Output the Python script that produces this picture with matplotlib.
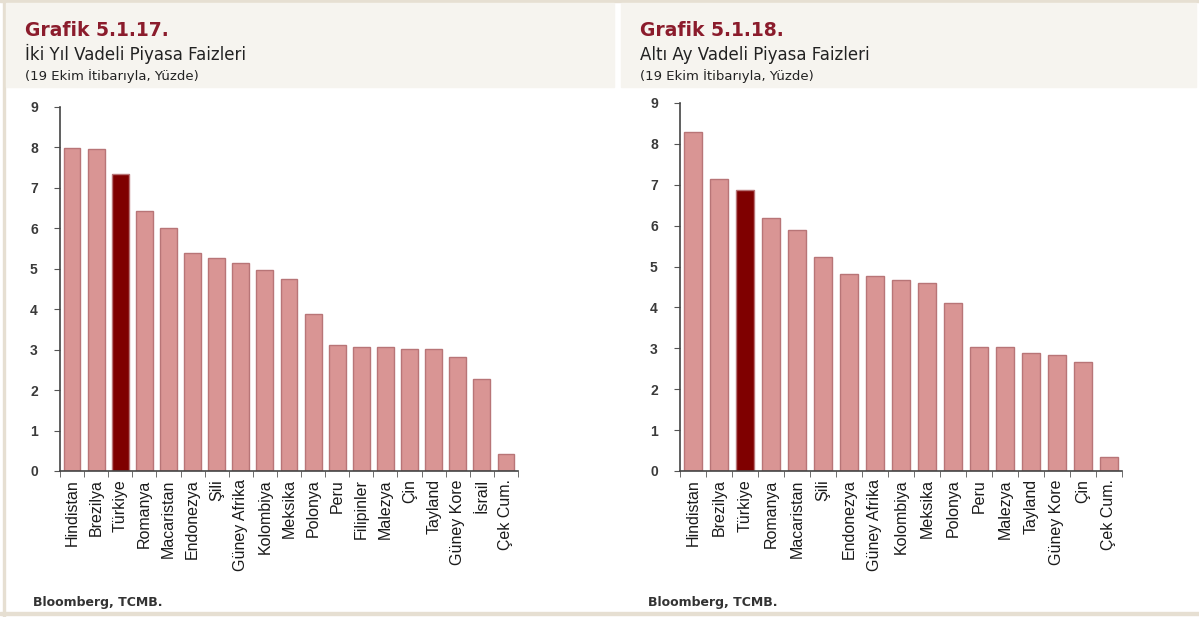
import matplotlib
matplotlib.use('Agg')
import matplotlib.pyplot as plt
from matplotlib.patches import Rectangle
import numpy as np

####################
# Data
countries_2y = ['Hindistan', 'Brezilya', 'Türkiye', 'Romanya', 'Macaristan', 'Endonezya',
                'Şili', 'Güney Afrika', 'Kolombiya', 'Meksika', 'Polonya', 'Peru',
                'Filipinler', 'Malezya', 'Çin', 'Tayland', 'Güney Kore', 'İsrail', 'Çek Cum.']
rates_2y = [7.99, 7.96, 7.35, 6.42, 6.00, 5.39, 5.26, 5.15, 4.97, 4.75, 3.88, 3.11,
            3.06, 3.06, 3.02, 3.02, 2.83, 2.27, 0.42]

countries_6m = ['Hindistan', 'Brezilya', 'Türkiye', 'Romanya', 'Macaristan', 'Şili',
                'Endonezya', 'Güney Afrika', 'Kolombiya', 'Meksika', 'Polonya', 'Peru',
                'Malezya', 'Tayland', 'Güney Kore', 'Çin', 'Çek Cum.']
rates_6m = [8.30, 7.14, 6.88, 6.18, 5.89, 5.23, 4.83, 4.77, 4.67, 4.60, 4.10, 3.03,
            3.03, 2.88, 2.84, 2.67, 0.34]

titles = ['Grafik 5.1.17.', 'Grafik 5.1.18.']
subtitles = ['İki Yıl Vadeli Piyasa Faizleri', 'Altı Ay Vadeli Piyasa Faizleri']
note = '(19 Ekim İtibarıyla, Yüzde)'
source = 'Bloomberg, TCMB.'

####################
# Styling
W, H = 1199, 617
bar_col = '#D99594'
edge_col = '#B87577'
tr_col = '#7F0000'
title_col = '#8B1C2C'
band_col = '#F6F4EF'
line_col = '#E6DFD2'

fig = plt.figure(figsize=(W / 100, H / 100), dpi=100)

def px_axes(x0, y0, x1, y1):
    # pixel box (top-left origin) -> figure axes
    return fig.add_axes([x0 / W, 1 - y1 / H, (x1 - x0) / W, (y1 - y0) / H])

# frame lines and header bands
fig.patches.append(Rectangle((0, 1 - 2 / H), 1, 2 / H, transform=fig.transFigure,
                             color=line_col, zorder=0))
fig.patches.append(Rectangle((3 / W, 0), 2 / W, 1, transform=fig.transFigure,
                             color=line_col, zorder=0))
fig.patches.append(Rectangle((0, 1 - 615 / H), 1, 3 / H, transform=fig.transFigure,
                             color=line_col, zorder=0))
for bx0, bx1 in [(6, 614), (621, 1196)]:
    fig.patches.append(Rectangle((bx0 / W, 1 - 87 / H), (bx1 - bx0) / W, 84 / H,
                                 transform=fig.transFigure, color=band_col, zorder=0))

panels = [
    (countries_2y, rates_2y, (60, 107, 518, 471), 25, 0.70),
    (countries_6m, rates_6m, (680, 103, 1122, 471), 640, 0.72),
]

for i, (cats, vals, box, tx, bw) in enumerate(panels):
    ax = px_axes(*box)
    x = np.arange(len(cats))
    cols = [tr_col if c == 'Türkiye' else bar_col for c in cats]
    ax.bar(x, vals, width=bw, color=cols, edgecolor=edge_col, linewidth=1.0)
    ax.set_xlim(-0.5, len(cats) - 0.5)
    ax.set_ylim(0, 9)
    ax.set_yticks(range(10))
    ax.set_xticks(x)
    ax.set_xticklabels(cats, rotation=90, family='Liberation Sans', fontsize=11.5,
                       color='#1a1a1a')
    ax.set_xticks(np.arange(-0.5, len(cats)), minor=True)
    ax.tick_params(axis='x', which='major', length=0, pad=6)
    ax.tick_params(axis='x', which='minor', length=4, color='#555555', direction='out')
    ax.tick_params(axis='y', length=4, color='#555555', labelsize=10, labelcolor='#3a3a3a',
                   pad=12)
    for lab in ax.get_yticklabels():
        lab.set_fontweight('bold')
        lab.set_family('Liberation Sans')
    for s in ['top', 'right']:
        ax.spines[s].set_visible(False)
    for s in ['left', 'bottom']:
        ax.spines[s].set_color('#444444')
        ax.spines[s].set_linewidth(1.2)
    ax.patch.set_alpha(0)

    fig.text(tx / W, 1 - 36 / H, titles[i], color=title_col, fontsize=13.5,
             fontweight='bold', family='DejaVu Sans')
    fig.text(tx / W, 1 - 60 / H, subtitles[i], color='#222222', fontsize=12,
             family='DejaVu Sans')
    fig.text(tx / W, 1 - 80 / H, note, color='#222222', fontsize=9.5,
             family='DejaVu Sans')
    fig.text((tx + 8) / W, 1 - 606 / H, source, color='#333333', fontsize=9,
             fontweight='bold', family='DejaVu Sans')

fig.savefig('out.png', dpi=100)
